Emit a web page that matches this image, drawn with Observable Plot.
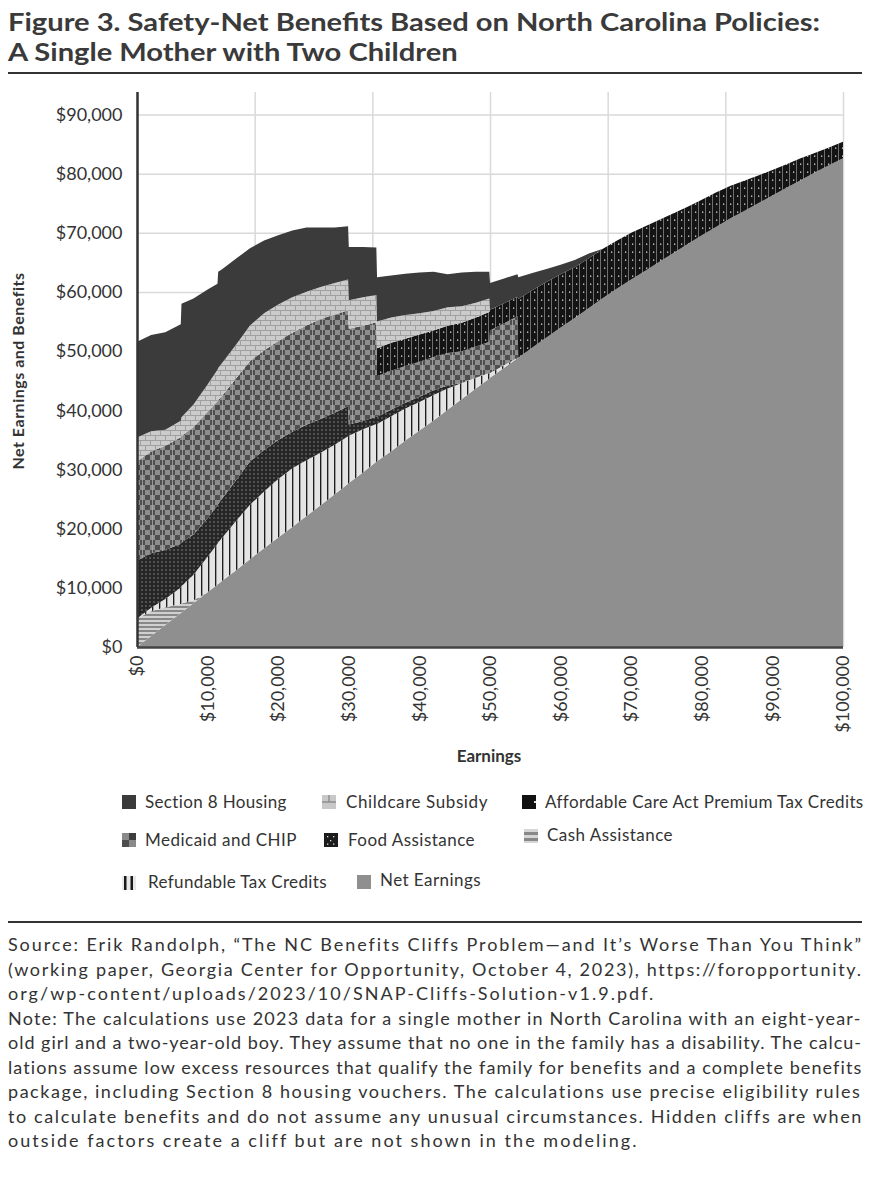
<!DOCTYPE html>
<html><head><meta charset="utf-8">
<script src="https://cdn.jsdelivr.net/npm/d3@7"></script>
<script src="https://cdn.jsdelivr.net/npm/@observablehq/plot@0.6"></script>
<style>
body{margin:0;background:#fff;}
#page{position:relative;width:872px;height:1200px;overflow:hidden;font-family:Lato,sans-serif;color:#333;background:#fff;}
.abs{position:absolute;white-space:nowrap;}
.rule{position:absolute;left:8px;width:854px;height:2px;background:#333;}
.title{font-family:Lato,sans-serif;font-weight:700;font-size:25px;line-height:30.2px;color:#3a3a3a;transform-origin:0 0;}
.leg{font-size:17px;line-height:20px;color:#333;}
.src{font-size:18px;line-height:24.5px;color:#333;}
#chart{position:absolute;left:0;top:80px;}
</style></head><body>
<svg width="0" height="0" style="position:absolute;left:0;top:0">
<defs>
<pattern id="pCC" patternUnits="userSpaceOnUse" width="10" height="10">
  <rect width="10" height="10" fill="#cbcbcb"/>
  <path d="M0 0.5H10M0 5.5H10M0.5 0V5M5.5 5V10" stroke="#a0a0a0" stroke-width="1" fill="none"/>
</pattern>
<pattern id="pACA" patternUnits="userSpaceOnUse" width="7" height="8">
  <rect width="7" height="8" fill="#141414"/>
  <rect x="5" y="0" width="1" height="8" fill="#6e6e6e"/>
  <rect x="2" y="3.5" width="1.3" height="1.3" fill="#dcdcdc"/>
</pattern>
<pattern id="pMed" patternUnits="userSpaceOnUse" width="10" height="10">
  <rect width="10" height="10" fill="#8d8d8d"/>
  <rect width="5" height="5" fill="#4e4e4e"/>
  <rect x="5" y="5" width="5" height="5" fill="#4e4e4e"/>
  <rect x="2" width="0.8" height="10" fill="#a9a9a9"/>
</pattern>
<pattern id="pFood" patternUnits="userSpaceOnUse" width="4" height="4">
  <rect width="4" height="4" fill="#262626"/>
  <rect x="1.5" y="1.5" width="1" height="1" fill="#d0d0d0"/>
</pattern>
<pattern id="pCash" patternUnits="userSpaceOnUse" width="4" height="4">
  <rect width="4" height="4" fill="#d0d0d0"/>
  <rect y="2" width="4" height="2" fill="#888"/>
</pattern>
<pattern id="pRTC" patternUnits="userSpaceOnUse" width="7" height="7">
  <rect width="7" height="7" fill="#e4e4e4"/>
  <rect x="5" width="1.3" height="7" fill="#1e1e1e"/>
  <rect x="6.3" width="0.7" height="7" fill="#9a9a9a"/>
</pattern>
</defs></svg>
<div id="page">
  <div class="abs title" id="title" style="left:8px;top:5.7px">Figure 3. Safety-Net Benefits Based on North Carolina Policies:<br>A Single Mother with Two Children</div>
  <div class="rule" style="top:72px"></div>
  <div id="chart"></div>
  <div class="abs" id="ytitle" style="font-weight:700;font-size:16px;line-height:20px;">Net Earnings and Benefits</div>
  <div class="abs" id="xtitle" style="font-weight:700;font-size:17px;line-height:20px;">Earnings</div>
  <div id="legend"></div>
  <div class="rule" style="top:921px"></div>
  <div id="source" class="abs" style="left:8px;top:932px;"></div>
</div>
<script>
// ---------- data (dollars) ----------
const earnings = [0,2000,4000,6200,6300,8000,10000,11400,11500,12000,
  14000,16000,18000,20000,22000,24000,26000,28000,
  29900,30000,32000,33900,34000,
  36000,38000,40000,42000,44000,46000,48000,
  49900,50000,52000,53900,54000,
  56000,58000,60000,62000,64000,66000,68000,70000,72000,74000,76000,78000,80000,82000,84000,86000,88000,90000,92000,94000,96000,98000,100000];

const netEarnings = [0,1850,3700,5750,5850,7400,9250,10550,10650,11100,
  12950,14850,16700,18500,20300,22150,23950,25800,
  27600,27700,29500,31300,31400,
  33100,34900,36600,38300,40100,41900,43700,
  45400,45500,47200,48800,48900,
  50600,52300,54000,55600,57300,59000,60600,62100,63600,65100,66600,68100,69600,71000,72400,73700,75000,76300,77600,78900,80200,81400,82600];

const cashAssistance = [4800,4200,3000,1500,1500,500,0,0,0,0,
  0,0,0,0,0,0,0,0,
  0,0,0,0,0,
  0,0,0,0,0,0,0,
  0,0,0,0,0,
  0,0,0,0,0,0,0,0,0,0,0,0,0,0,0,0,0,0,0,0,0,0,0];

const refundableTaxCredits = [0,600,1400,2800,2900,4300,6000,6900,7000,7300,
  8300,9200,9600,9900,9900,9400,8900,8400,
  8000,8000,7300,6400,6300,
  5900,5400,4800,4300,3600,2700,1800,
  900,800,400,100,0,
  0,0,0,0,0,0,0,0,0,0,0,0,0,0,0,0,0,0,0,0,0,0,0];

const foodAssistance = [9800,9200,8300,7400,7400,6800,6500,6500,6500,6600,
  6900,7300,7000,6600,6200,6000,5700,5400,
  5100,1900,1400,1200,1200,
  1100,1000,900,800,500,0,0,
  0,0,0,0,0,
  0,0,0,0,0,0,0,0,0,0,0,0,0,0,0,0,0,0,0,0,0,0,0];

const medicaidCHIP = [16800,17200,17600,18000,18000,18200,18000,17600,17600,17400,
  17200,17000,16800,16700,16700,16800,16900,16600,
  16200,16200,16100,16000,6900,
  6600,6200,5900,5600,5500,5400,5300,
  5300,7200,7100,7000,0,
  0,0,0,0,0,0,0,0,0,0,0,0,0,0,0,0,0,0,0,0,0,0,0];

const acaPremiumTaxCredits = [0,0,0,0,0,0,0,0,0,0,
  0,0,0,0,0,0,0,0,
  0,0,0,0,4700,
  4700,4600,4600,4500,4600,4800,4900,
  5000,3500,3400,3300,9900,
  9700,9400,9000,8600,8400,8300,8100,7900,7500,7100,6700,6300,6000,5800,5500,5100,4700,4300,4000,3700,3300,3000,2800];

const childcareSubsidy = [4000,3400,2700,2800,3200,3800,4600,5300,5400,5500,
  5700,6000,6300,6200,6000,5700,5400,5300,
  5200,4800,4800,4600,4500,
  4300,4000,3600,3300,3100,2800,2500,
  2300,0,0,0,0,
  0,0,0,0,0,0,0,0,0,0,0,0,0,0,0,0,0,0,0,0,0,0,0];

const section8Housing = [16200,16300,16500,16300,19150,17900,16050,14550,16250,15900,
  14550,13050,12300,11700,11300,10850,10050,9400,
  9000,9000,8500,8000,7500,
  7100,7000,6900,6600,5600,5700,5200,
  4500,4500,4200,3800,3700,
  2900,2200,1600,1200,800,0,0,0,0,0,0,0,0,0,0,0,0,0,0,0,0,0,0];

// stacking order: bottom to top
const seriesNames = ["Net Earnings","Cash Assistance","Refundable Tax Credits","Food Assistance",
  "Medicaid and CHIP","Affordable Care Act Premium Tax Credits","Childcare Subsidy","Section 8 Housing"];
const seriesValues = [netEarnings, cashAssistance, refundableTaxCredits, foodAssistance,
  medicaidCHIP, acaPremiumTaxCredits, childcareSubsidy, section8Housing];

const yTicks = [0,10000,20000,30000,40000,50000,60000,70000,80000,90000];
const xTicks = [0,10000,20000,30000,40000,50000,60000,70000,80000,90000,100000];
const xGridLines = [0,100000/6,200000/6,300000/6,400000/6,500000/6,100000];

const legendOrder = ["Section 8 Housing","Childcare Subsidy","Affordable Care Act Premium Tax Credits",
  "Medicaid and CHIP","Food Assistance","Cash Assistance","Refundable Tax Credits","Net Earnings"];

const sourceLines = [
  "Source: Erik Randolph, \u201cThe NC Benefits Cliffs Problem\u2014and It\u2019s Worse Than You Think\u201d",
  "(working paper, Georgia Center for Opportunity, October 4, 2023), https://foropportunity.",
  "org/wp-content/uploads/2023/10/SNAP-Cliffs-Solution-v1.9.pdf.",
  "Note: The calculations use 2023 data for a single mother in North Carolina with an eight-year-",
  "old girl and a two-year-old boy. They assume that no one in the family has a disability. The calcu-",
  "lations assume low excess resources that qualify the family for benefits and a complete benefits",
  "package, including Section 8 housing vouchers. The calculations use precise eligibility rules",
  "to calculate benefits and do not assume any unusual circumstances. Hidden cliffs are when",
  "outside factors create a cliff but are not shown in the modeling."
];

// ---------- styles ----------
const fills = {
  "Net Earnings": "#8f8f8f",
  "Cash Assistance": "url(#pCash)",
  "Refundable Tax Credits": "url(#pRTC)",
  "Food Assistance": "url(#pFood)",
  "Medicaid and CHIP": "url(#pMed)",
  "Affordable Care Act Premium Tax Credits": "url(#pACA)",
  "Childcare Subsidy": "url(#pCC)",
  "Section 8 Housing": "#3b3b3b"
};

const rows = [];
seriesNames.forEach((s, i) => earnings.forEach((x, j) => rows.push({earnings: x, value: seriesValues[i][j], series: s})));

const fmt = d3.format("$,");
const chart = Plot.plot({
  width: 872, height: 690,
  marginLeft: 137, marginRight: 29, marginTop: 12, marginBottom: 123,
  style: {fontFamily: "Lato, sans-serif", fontSize: "18px", color: "#333", background: "transparent", overflow: "visible"},
  x: {domain: [0, 100000]},
  y: {domain: [0, 93800]},
  color: {domain: seriesNames, range: seriesNames.map(s => fills[s])},
  marks: [
    Plot.gridY(yTicks, {stroke: "#d9d9d9", strokeOpacity: 1, strokeWidth: 1.5}),
    Plot.gridX(xGridLines, {stroke: "#d9d9d9", strokeOpacity: 1, strokeWidth: 1.5}),
    Plot.areaY(rows, {x: "earnings", y: "value", z: "series", fill: "series"}),
    Plot.ruleX([0], {stroke: "#333", strokeWidth: 2.5}),
    Plot.ruleY([0], {stroke: "#444", strokeWidth: 2.5}),
    Plot.axisY(yTicks, {tickSize: 0, tickPadding: 15, tickFormat: fmt, label: null, fontSize: 18}),
    Plot.axisX(xTicks, {tickSize: 0, tickPadding: 8, tickRotate: -90, tickFormat: fmt, label: null, fontSize: 18})
  ]
});
document.getElementById("chart").appendChild(chart);

// ---------- helpers ----------
const page = document.getElementById("page");
function fitSpacing(el, target) {
  const w = el.getBoundingClientRect().width;
  const n = el.textContent.length;
  el.style.letterSpacing = ((target - w) / n) + "px";
  return (target - w) / n;
}

// title: one text block, condensed horizontally so its first line spans the reference width
const title = document.getElementById("title");
const probe = document.createElement("span");
probe.className = "abs title";
probe.style.visibility = "hidden";
probe.textContent = title.firstChild.textContent;
page.appendChild(probe);
const sc = 812 / probe.getBoundingClientRect().width;
probe.remove();
title.style.transform = `scaleX(${sc})`;

// axis titles
const yt = document.getElementById("ytitle");
fitSpacing(yt, 197);
const ytw = yt.getBoundingClientRect().width;
yt.style.left = (18 - ytw / 2) + "px";
yt.style.top = (371 - 10) + "px";
yt.style.transform = "rotate(-90deg)";
yt.style.transformOrigin = "50% 50%";
const xt = document.getElementById("xtitle");
const xtw = xt.getBoundingClientRect().width;
xt.style.left = (489 - xtw / 2) + "px";
xt.style.top = (757 - 11) + "px";

// legend
const legendPos = {
  "Section 8 Housing": [122, 795, 145, 802, 142],
  "Childcare Subsidy": [322, 795, 346, 802, 142],
  "Affordable Care Act Premium Tax Credits": [522, 795, 545, 802, 318],
  "Medicaid and CHIP": [122, 833, 145, 840, 152],
  "Food Assistance": [324, 833, 348, 840, 127],
  "Cash Assistance": [524, 829, 547, 835, 126],
  "Refundable Tax Credits": [122, 876, 148, 882, 179],
  "Net Earnings": [357, 875, 380, 880, 101]
};
const swatchSVG = {
  "Section 8 Housing": '<rect width="14" height="14" fill="#3b3b3b"/>',
  "Childcare Subsidy": '<rect width="14" height="14" fill="#c8c8c8"/><path d="M0 7H14M7 0V7" stroke="#8e8e8e" stroke-width="1.5"/>',
  "Affordable Care Act Premium Tax Credits": '<rect width="14" height="14" fill="#111"/><rect x="12" y="6" width="2" height="2" fill="#ddd"/>',
  "Medicaid and CHIP": '<rect width="14" height="14" fill="#8a8a8a"/><rect x="7" width="7" height="7" fill="#3e3e3e"/><rect y="7" width="7" height="7" fill="#4e4e4e"/>',
  "Food Assistance": '<rect width="14" height="14" fill="#1c1c1c"/><g fill="#ddd"><rect x="3" y="3" width="1.3" height="1.3"/><rect x="9" y="3" width="1.3" height="1.3"/><rect x="6" y="7" width="1.3" height="1.3"/><rect x="3" y="10.5" width="1.3" height="1.3"/><rect x="9" y="10.5" width="1.3" height="1.3"/></g>',
  "Cash Assistance": '<rect width="14" height="14" fill="#d6d6d6"/><rect y="3" width="14" height="3" fill="#888"/><rect y="9" width="14" height="3" fill="#888"/>',
  "Refundable Tax Credits": '<rect width="14" height="14" fill="#e8e8e8"/><rect x="2" width="2.5" height="14" fill="#1a1a1a"/><rect x="8.5" width="2.5" height="14" fill="#1a1a1a"/>',
  "Net Earnings": '<rect width="14" height="14" fill="#8f8f8f"/>'
};
const legend = document.getElementById("legend");
legendOrder.forEach(name => {
  const [sx, sy, tx, cy, tw] = legendPos[name];
  const sw = document.createElementNS("http://www.w3.org/2000/svg", "svg");
  sw.setAttribute("width", 14); sw.setAttribute("height", 14);
  sw.style.position = "absolute"; sw.style.left = sx + "px"; sw.style.top = sy + "px";
  sw.innerHTML = swatchSVG[name];
  legend.appendChild(sw);
  const t = document.createElement("div");
  t.className = "abs leg";
  t.textContent = name;
  t.style.left = tx + "px"; t.style.top = (cy - 10.5) + "px";
  legend.appendChild(t);
  fitSpacing(t, tw);
});

// source text: justified lines fitted to full width; short lines use the average spacing
const src = document.getElementById("source");
const justified = [true, true, false, true, true, true, true, true, false];
const spans = [];
sourceLines.forEach((line, i) => {
  const d = document.createElement("div");
  d.className = "src";
  d.style.height = "24.5px";
  const s = document.createElement("span");
  s.textContent = line;
  s.style.whiteSpace = "nowrap";
  d.appendChild(s);
  src.appendChild(d);
  spans.push(s);
});
let sum = 0, cnt = 0;
spans.forEach((s, i) => { if (justified[i]) { sum += fitSpacing(s, 854); cnt++; } });
const avgLs = sum / cnt;
spans.forEach((s, i) => { if (!justified[i]) s.style.letterSpacing = (avgLs + 0.6) + "px"; });
</script>
</body></html>
